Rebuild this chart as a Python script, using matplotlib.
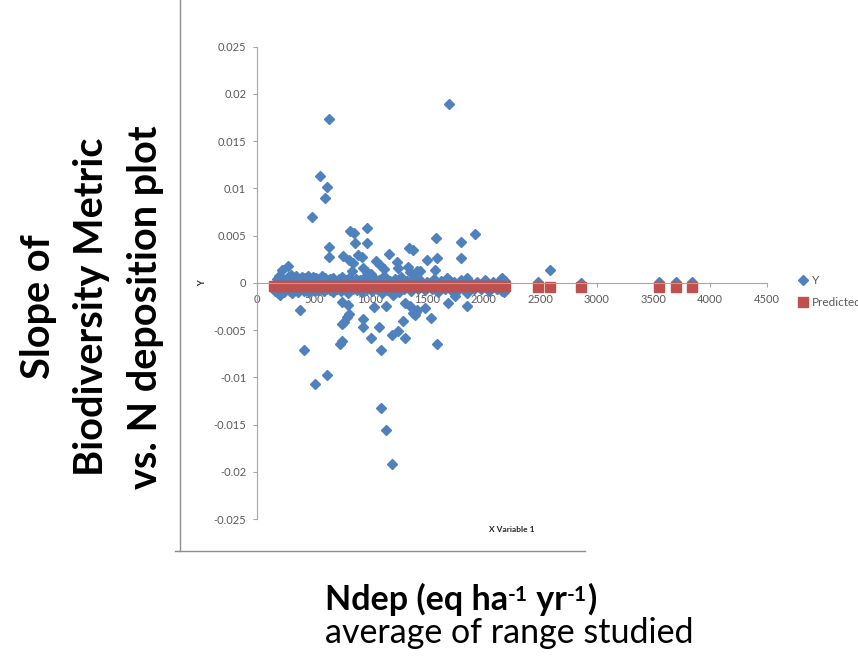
import matplotlib.pyplot as plt
from matplotlib.lines import Line2D

plt.rcParams['font.family'] = ['Lato', 'DejaVu Sans']

# scattered slopes away from zero
spread_x = [633, 1693, 554, 613, 598, 483, 816, 857, 966, 863,
            966, 633, 633, 1579, 1796, 1926, 1343, 1378, 754, 810,
            848, 892, 925, 833, 931, 966, 1001, 1045, 1084, 1119,
            1160, 1231, 1246, 1334, 1349, 1414, 1437, 1496, 1584, 1570,
            1796, 1849, 2159, 2589, 2483, 215, 268, 1696,
            1193, 1140, 1096, 512, 613, 409, 1096, 1587, 730, 748,
            1007, 1308, 1193, 1240, 1078, 934, 934, 1290, 1531, 748,
            766, 789, 813, 377, 1034, 1378, 1414, 1349, 1478, 1855,
            1687, 1746, 1849, 1304, 1137, 1202, 745, 804, 907, 2159,
            200, 1395, 1405, 2860, 3550, 3700, 3840]
spread_y = [0.0173, 0.0189, 0.0113, 0.0102, 0.0090, 0.0070, 0.0055, 0.0053, 0.0058, 0.0042,
            0.0042, 0.0038, 0.0027, 0.0047, 0.0043, 0.0052, 0.0037, 0.0035, 0.0028, 0.0024,
            0.0021, 0.0029, 0.0027, 0.0013, 0.0016, 0.0012, 0.0009, 0.0023, 0.0019, 0.0015,
            0.0031, 0.0022, 0.0016, 0.0017, 0.0012, 0.0013, 0.0013, 0.0024, 0.0026, 0.0014,
            0.0026, 0.0005, 0.0005, 0.0014, 0.0001, 0.0014, 0.0018, 0.0003,
            -0.0192, -0.0156, -0.0132, -0.0107, -0.0098, -0.0071, -0.0071, -0.0065, -0.0065, -0.0062,
            -0.0058, -0.0058, -0.0055, -0.0051, -0.0047, -0.0047, -0.0038, -0.0040, -0.0037, -0.0044,
            -0.0041, -0.0036, -0.0033, -0.0029, -0.0026, -0.0032, -0.0029, -0.0025, -0.0027, -0.0025,
            -0.0021, -0.0014, -0.0011, -0.0021, -0.0024, -0.0013, -0.0020, -0.0023, -0.0008, -0.0009,
            -0.0013, -0.0034, -0.0031, 0.0000, 0.0001, 0.0001, 0.0001]

# slopes just above zero
upper_x = [170, 195, 220, 245, 270, 295, 320, 345, 370, 395,
           420, 445, 470, 495, 520, 545, 570, 595, 620, 645,
           670, 695, 720, 750, 780, 810, 840, 875, 910, 950,
           990, 1030, 1075, 1120, 1170, 1220, 1270, 1320, 1380, 1440,
           1500, 1560, 1620, 1680, 1740, 1800, 1870, 1940, 2010, 2080,
           2150, 2190]
upper_y = [0.0004, 0.0007, 0.0005, 0.0003, 0.0006, 0.0008, 0.0005, 0.0007, 0.0004, 0.0006,
           0.0005, 0.0007, 0.0004, 0.0006, 0.0005, 0.0004, 0.0007, 0.0005, 0.0003, 0.0004,
           0.0005, 0.0002, 0.0004, 0.0006, 0.0003, 0.0005, 0.0002, 0.0004, 0.0003, 0.0006,
           0.0002, 0.0005, 0.0003, 0.0007, 0.0002, 0.0004, 0.0006, 0.0002, 0.0005, 0.0003,
           0.0001, 0.0004, 0.0002, 0.0005, 0.0001, 0.0003, 0.0002, 0.0001, 0.0003, 0.0001,
           0.0004, 0.0002]

# slopes just below zero
lower_x = [160, 185, 210, 235, 260, 285, 310, 335, 360, 385,
           410, 435, 460, 485, 510, 535, 560, 585, 610, 640,
           670, 700, 735, 770, 805, 845, 885, 925, 965, 1010,
           1055, 1100, 1150, 1200, 1250, 1300, 1360, 1420, 1480, 1540,
           1600, 1660, 1720, 1780, 1840, 1910, 1980, 2050, 2120, 2180]
lower_y = [-0.0009, -0.0011, -0.0008, -0.0010, -0.0007, -0.0009, -0.0011, -0.0008, -0.0010, -0.0007,
           -0.0009, -0.0008, -0.0010, -0.0007, -0.0009, -0.0008, -0.0006, -0.0009, -0.0007, -0.0008,
           -0.0010, -0.0006, -0.0009, -0.0007, -0.0011, -0.0006, -0.0008, -0.0010, -0.0007, -0.0009,
           -0.0006, -0.0011, -0.0008, -0.0007, -0.0010, -0.0006, -0.0009, -0.0007, -0.0008, -0.0006,
           -0.0010, -0.0007, -0.0009, -0.0006, -0.0008, -0.0007, -0.0006, -0.0009, -0.0007, -0.0010]

pred_x = [150, 190, 230, 270, 310, 350, 390, 430, 470, 510,
          550, 590, 630, 670, 710, 750, 790, 830, 870, 910,
          950, 990, 1030, 1070, 1110, 1150, 1190, 1230, 1270, 1310,
          1350, 1390, 1430, 1470, 1510, 1550, 1590, 1630, 1670, 1710,
          1750, 1790, 1830, 1870, 1910, 1950, 1990, 2030, 2070, 2110,
          2150, 2190, 2480, 2590, 2860, 3550, 3700, 3840]
pred_y = [-0.00029, -0.00029, -0.00029, -0.00030, -0.00030, -0.00030, -0.00030, -0.00030, -0.00031, -0.00031,
          -0.00031, -0.00031, -0.00031, -0.00031, -0.00032, -0.00032, -0.00032, -0.00032, -0.00032, -0.00032,
          -0.00033, -0.00033, -0.00033, -0.00033, -0.00033, -0.00033, -0.00034, -0.00034, -0.00034, -0.00034,
          -0.00034, -0.00034, -0.00035, -0.00035, -0.00035, -0.00035, -0.00035, -0.00035, -0.00036, -0.00036,
          -0.00036, -0.00036, -0.00036, -0.00036, -0.00037, -0.00037, -0.00037, -0.00037, -0.00037, -0.00037,
          -0.00038, -0.00038, -0.00039, -0.00039, -0.00040, -0.00042, -0.00043, -0.00043]

x_ticks = [0, 500, 1000, 1500, 2000, 2500, 3000, 3500, 4000, 4500]
y_ticks = [-0.025, -0.02, -0.015, -0.01, -0.005, 0, 0.005, 0.01, 0.015, 0.02, 0.025]
y_labels = ['-0.025', '-0.02', '-0.015', '-0.01', '-0.005', '0',
            '0.005', '0.01', '0.015', '0.02', '0.025']

blue = '#4F81BD'
red = '#C0504D'
axis_grey = '#A6A6A6'
text_grey = '#595959'

W, H = 858, 661
fig = plt.figure(figsize=(W / 100, H / 100), dpi=100)
ax = fig.add_axes([257.3 / W, 1 - 519 / H, 509.4 / W, 472.3 / H])

ax.plot(spread_x + upper_x + lower_x, spread_y + upper_y + lower_y,
        linestyle='none', marker='D', ms=4.6, color=blue, mec=blue, label='Y')
ax.plot(pred_x, pred_y, linestyle='none', marker='s', ms=7.0,
        color=red, mec=red, label='Predicted')

ax.set_xlim(0, 4500)
ax.set_ylim(-0.025, 0.025)
ax.set_xticks(x_ticks)
ax.set_xticklabels([str(t) for t in x_ticks])
ax.set_yticks(y_ticks)
ax.set_yticklabels(y_labels)

for side in ('top', 'right'):
    ax.spines[side].set_visible(False)
ax.spines['bottom'].set_position(('data', 0))
for side in ('left', 'bottom'):
    ax.spines[side].set_color(axis_grey)
    ax.spines[side].set_linewidth(0.8)
ax.tick_params(axis='both', direction='out', length=3, width=0.8,
               color=axis_grey, labelcolor=text_grey, labelsize=8)
ax.tick_params(axis='x', pad=5)
ax.tick_params(axis='y', pad=5)

fig.text(203 / W, 1 - 283 / H, 'Y', rotation=90, ha='center', va='center',
         fontsize=6.5, fontweight='bold', color='#262626')
fig.text(512 / W, 1 - 529 / H, 'X Variable 1', ha='center', va='center',
         fontsize=6, fontweight='bold', color='#262626')

# the legend runs off the right edge, so its second label is clipped
fig.legend(loc='upper left', bbox_to_anchor=(798 / W, 1 - 275 / H),
           frameon=False, fontsize=8.5, labelcolor=text_grey,
           handlelength=0.9, handletextpad=0.3, labelspacing=0.95,
           borderpad=0, borderaxespad=0)

# outer frame around the chart
frame = dict(color='#8C8C8C', linewidth=1.0, transform=fig.transFigure)
fig.add_artist(Line2D([180 / W, 180 / W], [1, 1 - 551 / H], **frame))
fig.add_artist(Line2D([175 / W, 585 / W], [1 - 551 / H, 1 - 551 / H], **frame))

fig.text(92 / W, 1 - 307 / H, 'Slope of\nBiodiversity Metric\nvs. N deposition plot',
         rotation=90, ha='center', va='center', multialignment='center',
         fontsize=28.5, fontweight='bold', linespacing=1.55, color='black')

# x caption: bold units line with raised exponents, then a plain line
renderer = fig.canvas.get_renderer()
runs = [('Ndep (eq ha', 0), ('-1', 1), (' yr', 0), ('-1', 1), (')', 0)]
x_px = 325
for piece, sup in runs:
    t = fig.text(x_px / W, 1 - (601 if sup else 610) / H, piece, ha='left',
                 va='baseline', fontsize=15 if sup else 24.5, fontweight='bold',
                 color='black')
    x_px = t.get_window_extent(renderer).x1
fig.text(325 / W, 1 - 643 / H, 'average of range studied',
         ha='left', va='baseline', fontsize=24.5, color='black')

fig.savefig('out.png', dpi=100)
